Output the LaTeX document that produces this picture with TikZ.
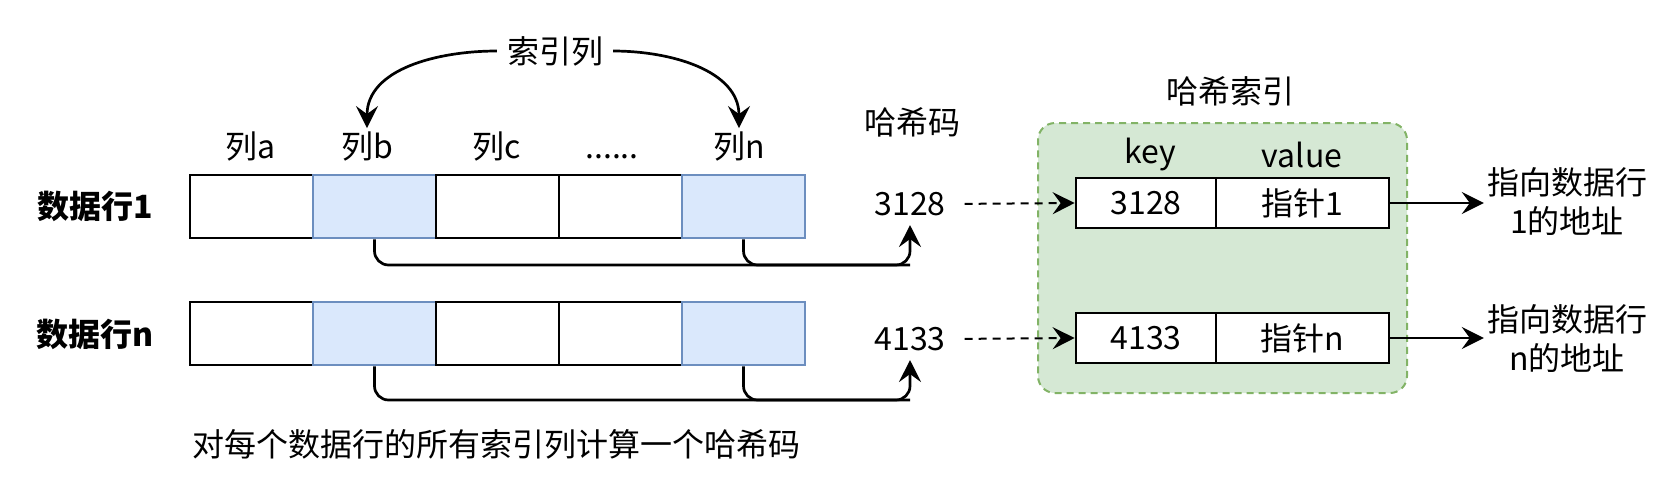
\documentclass[tikz,border=0pt]{standalone}
\usepackage{fontspec}
\setmainfont{Noto Sans CJK SC}
\usetikzlibrary{arrows.meta}
\pgfdeclarelayer{bglayer}
\pgfdeclarelayer{nodelayer}
\pgfdeclarelayer{edgelayer}
\pgfsetlayers{bglayer,edgelayer,nodelayer,main}
\definecolor{keyblue}{HTML}{DAE8FC}
\definecolor{keyedge}{HTML}{6C8EBF}
\definecolor{idxgreen}{HTML}{D5E8D4}
\definecolor{idxedge}{HTML}{82B366}
\tikzstyle{txt}=[font=\fontsize{32}{39}\selectfont, inner sep=3pt, align=center]
\tikzstyle{row txt}=[txt, font=\fontsize{32}{39}\selectfont\bfseries]
\tikzstyle{cell}=[fill=white, draw=black, line width=2.7pt, shape=rectangle, minimum width=123pt, minimum height=63pt, inner sep=0pt]
\tikzstyle{key cell}=[cell, fill=keyblue, draw=keyedge]
\tikzstyle{pair}=[txt, fill=white, draw=black, line width=2.7pt, shape=rectangle, minimum height=50pt]
\tikzstyle{index box}=[fill=idxgreen, draw=idxedge, line width=2pt, dash pattern=on 7pt off 5pt, rounded corners=17pt, minimum width=369pt, minimum height=270pt]
\tikzstyle{directed edge}=[-{Stealth[length=22pt,width=22pt,inset=8pt]}, line width=2.7pt]
\tikzstyle{dashed edge}=[directed edge, line width=2pt, dash pattern=on 8pt off 6pt]
\tikzstyle{plain edge}=[line width=2.7pt]

\begin{document}
\begin{tikzpicture}[x=1pt, y=-1pt]
	\useasboundingbox (0,0) rectangle (1672,482);
	\begin{pgfonlayer}{bglayer}
		\node [style=index box] (22) at (1222.5, 258) {};
	\end{pgfonlayer}
	\begin{pgfonlayer}{nodelayer}
		\node [style=row txt] (0) at (95, 206) {数据行1};
		\node [style=row txt] (1) at (95, 334) {数据行n};
		\node [style=cell] (2) at (251.5, 206.5) {};
		\node [style=key cell] (3) at (374.5, 206.5) {};
		\node [style=cell] (4) at (497.5, 206.5) {};
		\node [style=cell] (5) at (620.5, 206.5) {};
		\node [style=key cell] (6) at (743.5, 206.5) {};
		\node [style=cell] (7) at (251.5, 333.5) {};
		\node [style=key cell] (8) at (374.5, 333.5) {};
		\node [style=cell] (9) at (497.5, 333.5) {};
		\node [style=cell] (10) at (620.5, 333.5) {};
		\node [style=key cell] (11) at (743.5, 333.5) {};
		\node [style=txt] (12) at (251, 146) {列a};
		\node [style=txt] (13) at (367, 146) {列b};
		\node [style=txt] (14) at (497, 146) {列c};
		\node [style=txt] (15) at (612, 146) {\vphantom{列}......};
		\node [style=txt] (16) at (739, 146) {列n};
		\node [style=txt, inner sep=10pt] (17) at (555, 51) {索引列};
		\node [style=txt] (18) at (912, 122) {哈希码};
		\node [style=txt] (19) at (910, 204) {3128};
		\node [style=txt] (20) at (910, 339) {4133};
		\node [style=txt] (21) at (1230, 91) {哈希索引};
		\node [style=txt] (23) at (1150, 155) {key};
		\node [style=txt] (24) at (1302, 155) {value};
		\node [style=pair, minimum width=140pt] (25) at (1146, 203) {3128};
		\node [style=pair, minimum width=173pt] (26) at (1302.5, 203) {指针1};
		\node [style=pair, minimum width=140pt] (27) at (1146, 338) {4133};
		\node [style=pair, minimum width=173pt] (28) at (1302.5, 338) {指针n};
		\node [style=txt] (29) at (1567, 202) {指向数据行\\1的地址};
		\node [style=txt] (30) at (1567, 339) {指向数据行\\n的地址};
		\node [style=txt] (31) at (496, 444) {对每个数据行的所有索引列计算一个哈希码};
		\coordinate (32) at (910, 265);
		\coordinate (33) at (910, 400);
	\end{pgfonlayer}
	\begin{pgfonlayer}{edgelayer}
		\draw [style=directed edge] (17.west) to [out=180, in=90] (13.north);
		\draw [style=directed edge] (17.east) to [out=0, in=90] (16.north);
		\draw [style=directed edge, rounded corners=14pt, shorten >=6pt] (3.south) |- (32) -- (19.south);
		\draw [style=plain edge, rounded corners=14pt] (6.south) |- (32);
		\draw [style=directed edge, rounded corners=14pt, shorten >=6pt] (8.south) |- (33) -- (20.south);
		\draw [style=plain edge, rounded corners=14pt] (11.south) |- (33);
		\draw [style=dashed edge, shorten <=16pt] (19.east) to (25.west);
		\draw [style=dashed edge, shorten <=16pt] (20.east) to (27.west);
		\draw [style=directed edge] (26.east) to (29.west |- 26.east);
		\draw [style=directed edge] (28.east) to (30.west |- 28.east);
	\end{pgfonlayer}
\end{tikzpicture}
\end{document}
